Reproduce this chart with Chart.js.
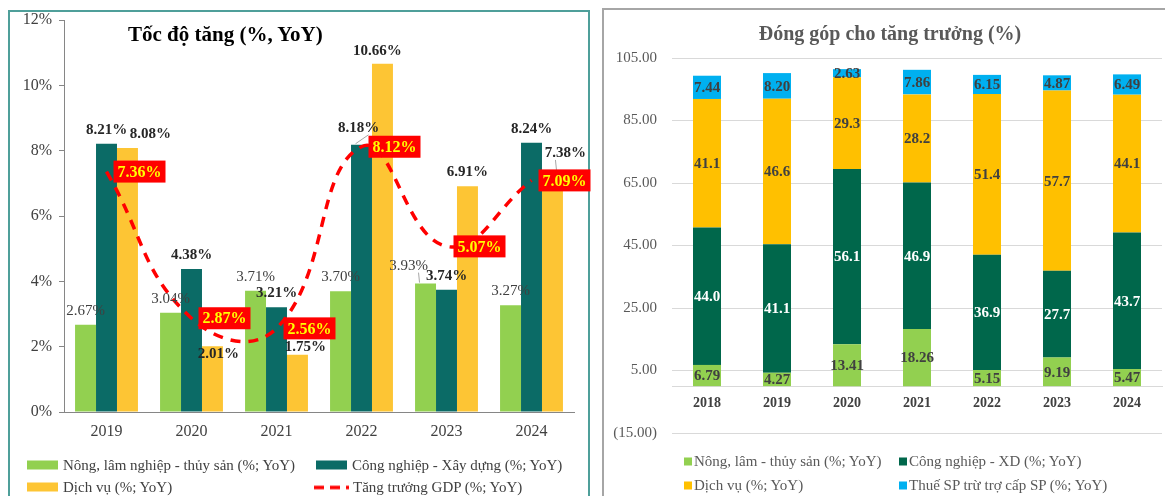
<!DOCTYPE html>
<html><head><meta charset="utf-8">
<script src="https://cdn.jsdelivr.net/npm/chart.js@4.4.1/dist/chart.umd.min.js"></script>
<style>
html,body{margin:0;padding:0;background:#fff;width:1165px;height:496px;overflow:hidden;font-family:'Liberation Serif','Times New Roman',serif;}
.panel{position:absolute;box-sizing:border-box;}
#p1{left:8px;top:10px;width:582px;height:520px;border:2px solid #4f9f9a;}
#p2{left:602px;top:8px;width:600px;height:520px;border:2px solid #a6a6a6;}
#w1{position:absolute;left:0;top:0;width:595px;height:496px;}
#w2{position:absolute;left:600px;top:0;width:565px;height:496px;}
.title{position:absolute;font-weight:bold;white-space:nowrap;line-height:1;}
#t1{left:128px;top:24px;font-size:21px;color:#000;}
#t2{left:890px;top:23px;transform:translateX(-50%);font-size:20px;color:#595959;}
.li{position:absolute;white-space:nowrap;display:flex;align-items:center;line-height:1;transform:translateY(-50%);}
.l1{font-size:15px;color:#404040;}
.l2{font-size:15px;color:#595959;}
</style></head>
<body>
<div class="panel" id="p1"></div>
<div class="panel" id="p2"></div>
<div id="w1"><canvas id="c1" width="595" height="496" style="width:595px;height:496px"></canvas></div>
<div id="w2"><canvas id="c2" width="565" height="496" style="width:565px;height:496px"></canvas></div>
<div class="title" id="t1">Tốc độ tăng (%, YoY)</div>
<div class="title" id="t2">Đóng góp cho tăng trưởng (%)</div>
<div id="leg"></div>
<script>
// ---- Left chart data ----
const years1 = ['2019', '2020', '2021', '2022', '2023', '2024'];
const agri1 = [2.67, 3.04, 3.71, 3.70, 3.93, 3.27];
const ind1 = [8.21, 4.38, 3.21, 8.18, 3.74, 8.24];
const serv1 = [8.08, 2.01, 1.75, 10.66, 6.91, 7.38];
const gdp1 = [7.36, 2.87, 2.56, 8.12, 5.07, 7.09];
const names1 = ['Nông, lâm nghiệp - thủy sản (%; YoY)', 'Công nghiệp - Xây dựng (%; YoY)', 'Dịch vụ (%; YoY)', 'Tăng trưởng GDP (%; YoY)'];
const yTicks1 = [0, 2, 4, 6, 8, 10, 12];

// ---- Right chart data ----
const years2 = ['2018', '2019', '2020', '2021', '2022', '2023', '2024'];
const agri2 = [6.79, 4.27, 13.41, 18.26, 5.15, 9.19, 5.47];
const ind2 = [44.0, 41.1, 56.1, 46.9, 36.9, 27.7, 43.7];
const serv2 = [41.1, 46.6, 29.3, 28.2, 51.4, 57.7, 44.1];
const tax2 = [7.44, 8.20, 2.63, 7.86, 6.15, 4.87, 6.49];
const names2 = ['Nông, lâm - thủy sản (%; YoY)', 'Công nghiệp - XD (%; YoY)', 'Dịch vụ (%; YoY)', 'Thuế SP trừ trợ cấp SP (%; YoY)'];
const yTicks2 = [-15, 5, 25, 45, 65, 85, 105];

const FAM = "'Liberation Serif','Times New Roman',serif";
const C1 = {agri: '#92d050', ind: '#0b6b66', serv: '#fdc534', gdp: '#ff0000'};
const C2 = {agri: '#92d050', ind: '#00674b', serv: '#ffc000', tax: '#00b0f0'};

// label nudges (styling only)
const nudge1 = {
  agri: [[0,0],[0,0],[0,0],[0,0],[-17,-4,1],[0,0]],
  ind:  [[0,0],[0,0],[0,0],[-3,-3,1],[0,0],[0,0]],
  serv: [[23,0],[6,22],[8,6],[-5,1],[0,0],[13,-4,1]]
};

const labelPlugin = {
  id: 'vlabels',
  afterDatasetsDraw(chart) {
    const ctx = chart.ctx;
    chart.data.datasets.forEach((ds, di) => {
      const L = ds.lbl; if (!L) return;
      const meta = chart.getDatasetMeta(di);
      meta.data.forEach((el, i) => {
        const text = L.fmt(ds.data[i]);
        ctx.save();
        ctx.font = L.font;
        ctx.textBaseline = 'middle';
        if (L.mode === 'above') {
          const n = (L.nudge && L.nudge[i]) || [0, 0];
          const x = el.x + n[0], y = el.y - 14 + n[1];
          if (n[2]) {
            ctx.strokeStyle = '#a6a6a6'; ctx.lineWidth = 1;
            ctx.beginPath(); ctx.moveTo(x + (n[0] < 0 ? 10 : -10), y + 7); ctx.lineTo(el.x + (n[0] < 0 ? -6 : 4), el.y - 1); ctx.stroke();
          }
          ctx.fillStyle = L.color; ctx.textAlign = 'center';
          ctx.fillText(text, x, y);
        } else if (L.mode === 'box') {
          const w = ctx.measureText(text).width + 8;
          const x = el.x + 7, y = el.y;
          ctx.fillStyle = '#ff0000';
          ctx.fillRect(x, y - 11, w, 22);
          ctx.fillStyle = L.color; ctx.textAlign = 'left';
          ctx.fillText(text, x + 4, y + 1);
        } else {
          ctx.fillStyle = L.color; ctx.textAlign = 'center';
          ctx.fillText(text, el.x, (el.y + el.base) / 2 + 1);
        }
        ctx.restore();
      });
    });
  }
};

const pct = v => v.toFixed(2) + '%';

new Chart(document.getElementById('c1'), {
  data: {
    labels: years1,
    datasets: [
      {type: 'bar', label: names1[0], data: agri1, backgroundColor: C1.agri, order: 1,
       lbl: {mode: 'above', fmt: pct, font: '400 15px ' + FAM, color: '#404040', nudge: nudge1.agri}},
      {type: 'bar', label: names1[1], data: ind1, backgroundColor: C1.ind, order: 1,
       lbl: {mode: 'above', fmt: pct, font: '700 15px ' + FAM, color: '#262626', nudge: nudge1.ind}},
      {type: 'bar', label: names1[2], data: serv1, backgroundColor: C1.serv, order: 1,
       lbl: {mode: 'above', fmt: pct, font: '700 15px ' + FAM, color: '#262626', nudge: nudge1.serv}},
      {type: 'line', label: names1[3], data: gdp1, borderColor: C1.gdp, borderWidth: 3.5, borderDash: [10, 8],
       tension: 0.45, pointRadius: 0, fill: false, order: 0,
       lbl: {mode: 'box', fmt: pct, font: '700 16px ' + FAM, color: '#ffff00'}}
    ]
  },
  options: {
    responsive: false, animation: false,
    layout: {padding: {left: 0, top: 20, right: 21, bottom: 44}},
    plugins: {legend: {display: false}, tooltip: {enabled: false}, title: {display: false}},
    datasets: {bar: {categoryPercentage: 0.74, barPercentage: 1}},
    scales: {
      x: {grid: {display: false, drawTicks: false}, border: {display: true, color: '#868686', width: 1},
          ticks: {font: {family: FAM, size: 16}, color: '#404040', padding: 10},
          afterFit(s) { s.height = 40; }},
      y: {min: yTicks1[0], max: yTicks1[yTicks1.length - 1],
          afterBuildTicks(s) { s.ticks = yTicks1.map(v => ({value: v})); },
          ticks: {callback: v => v + '%', font: {family: FAM, size: 16}, color: '#404040', padding: 7},
          grid: {drawOnChartArea: false, tickLength: 5, color: '#868686'},
          border: {display: true, color: '#868686', width: 1},
          afterFit(s) { s.width = 64; }}
    }
  },
  plugins: [labelPlugin]
});

const f2 = v => v.toFixed(2), f1 = v => v.toFixed(1);
new Chart(document.getElementById('c2'), {
  type: 'bar',
  data: {
    labels: years2,
    datasets: [
      {label: names2[0], data: agri2, backgroundColor: C2.agri, lbl: {mode: 'center', fmt: f2, font: '700 15px ' + FAM, color: '#404040'}},
      {label: names2[1], data: ind2, backgroundColor: C2.ind, lbl: {mode: 'center', fmt: f1, font: '700 15px ' + FAM, color: '#ffffff'}},
      {label: names2[2], data: serv2, backgroundColor: C2.serv, lbl: {mode: 'center', fmt: f1, font: '700 15px ' + FAM, color: '#404040'}},
      {label: names2[3], data: tax2, backgroundColor: C2.tax, lbl: {mode: 'center', fmt: f2, font: '700 15px ' + FAM, color: '#404040'}}
    ]
  },
  options: {
    responsive: false, animation: false,
    layout: {padding: {left: 0, top: 58, right: 3, bottom: 63}},
    plugins: {legend: {display: false}, tooltip: {enabled: false}},
    datasets: {bar: {categoryPercentage: 0.4, barPercentage: 1}},
    scales: {
      x: {stacked: true, position: {y: 0}, grid: {display: false, drawTicks: false},
          border: {display: true, color: '#d9d9d9', width: 1},
          ticks: {font: {family: FAM, size: 14, weight: 'bold'}, color: '#404040', padding: 9},
          afterFit(s) { s.height = 0; }},
      y: {stacked: true, min: yTicks2[0], max: yTicks2[yTicks2.length - 1],
          afterBuildTicks(s) { s.ticks = yTicks2.map(v => ({value: v})); },
          ticks: {callback: v => v < 0 ? '(' + Math.abs(v).toFixed(2) + ')' : v.toFixed(2),
                  font: {family: FAM, size: 15}, color: '#595959', padding: 15},
          grid: {color: '#d9d9d9', drawTicks: false, lineWidth: 1},
          border: {display: false},
          afterFit(s) { s.width = 72; }}
    }
  },
  plugins: [labelPlugin]
});

// ---- HTML legends ----
const leg = document.getElementById('leg');
function addItem(cls, x, y, swatch, text) {
  const d = document.createElement('div');
  d.className = 'li ' + cls;
  d.style.left = x + 'px'; d.style.top = y + 'px';
  d.appendChild(swatch);
  const s = document.createElement('span'); s.textContent = text; d.appendChild(s);
  leg.appendChild(d);
}
function box(w, h, color, mr) {
  const b = document.createElement('span');
  b.style.cssText = `display:inline-block;width:${w}px;height:${h}px;background:${color};margin-right:${mr}px;`;
  return b;
}
function dash() {
  const c = document.createElement('canvas'); c.width = 36; c.height = 6;
  c.style.marginRight = '4px';
  const g = c.getContext('2d'); g.strokeStyle = C1.gdp; g.lineWidth = 3.5; g.setLineDash([10, 6]);
  g.beginPath(); g.moveTo(1, 3); g.lineTo(36, 3); g.stroke();
  return c;
}
addItem('l1', 27, 465, box(31, 9, C1.agri, 5), names1[0]);
addItem('l1', 316, 465, box(31, 9, C1.ind, 5), names1[1]);
addItem('l1', 27, 487, box(31, 9, C1.serv, 5), names1[2]);
addItem('l1', 313, 487, dash(), names1[3]);
addItem('l2', 684, 461, box(8, 8, C2.agri, 2), names2[0]);
addItem('l2', 899, 461, box(8, 8, C2.ind, 2), names2[1]);
addItem('l2', 684, 485, box(8, 8, C2.serv, 2), names2[2]);
addItem('l2', 899, 485, box(8, 8, C2.tax, 2), names2[3]);
</script>
</body></html>
